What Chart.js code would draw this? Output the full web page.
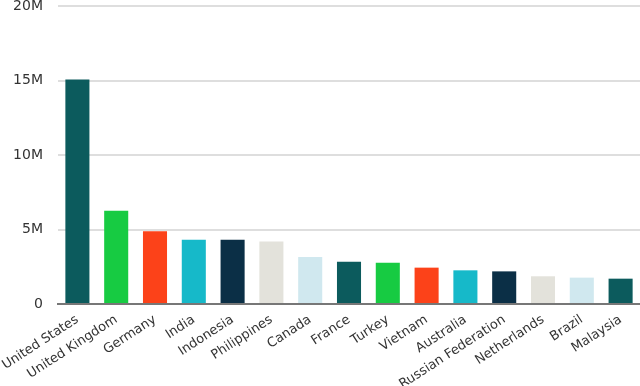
<!DOCTYPE html>
<html>
<head>
<meta charset="utf-8">
<script src="https://cdn.jsdelivr.net/npm/chart.js@4"></script>
<style>
  html, body { margin: 0; padding: 0; background: #fff; }
  #wrap { width: 640px; height: 386px; position: relative; }
</style>
</head>
<body>
<div id="wrap"><canvas id="chart"></canvas></div>
<script>
// data
const countries = ["United States", "United Kingdom", "Germany", "India", "Indonesia", "Philippines", "Canada",
  "France", "Turkey", "Vietnam", "Australia", "Russian Federation", "Netherlands", "Brazil", "Malaysia"];
const values = [15.07, 6.26, 4.88, 4.32, 4.32, 4.2, 3.15, 2.84, 2.77, 2.44, 2.26, 2.19, 1.86, 1.77, 1.7];
const palette = ["#0c5b5d", "#17cb42", "#fc4219", "#16b9c9", "#0b2f46", "#e3e2db", "#d0e8ef"];
const yTicks = [0, 5, 10, 15, 20];

const ctx = document.getElementById("chart");

new Chart(ctx, {
  type: "bar",
  data: {
    labels: countries,
    datasets: [{
      data: values.map(v => v * 1e6),
      backgroundColor: countries.map((c, i) => palette[i % palette.length]),
      barPercentage: 0.62,
      categoryPercentage: 1
    }]
  },
  options: {
    responsive: true,
    maintainAspectRatio: false,
    animation: false,
    layout: { padding: { top: 6, right: 0, left: 0, bottom: 0 } },
    plugins: { legend: { display: false }, tooltip: { enabled: false } },
    scales: {
      x: {
        grid: { display: false, drawTicks: false },
        border: { color: "#777", width: 2 },
        ticks: {
          color: "#333",
          font: { family: "DejaVu Sans", size: 13 },
          minRotation: 33,
          maxRotation: 33,
          padding: 8,
          autoSkip: false
        },
        afterFit: s => { s.height = 82; s.paddingLeft = 0; s.paddingRight = 0; }
      },
      y: {
        min: 0,
        max: 20e6,
        grid: { color: "#dedede", lineWidth: 2, drawTicks: false },
        border: { display: false },
        ticks: {
          stepSize: 5e6,
          color: "#333",
          font: { family: "DejaVu Sans", size: 14 },
          padding: 15,
          callback: v => {
            const m = v / 1e6;
            return yTicks.includes(m) ? (m === 0 ? "0" : m + "M") : "";
          }
        },
        afterFit: s => { s.width = 58; s.paddingTop = 0; s.paddingBottom = 0; }
      }
    }
  }
});
</script>
</body>
</html>
